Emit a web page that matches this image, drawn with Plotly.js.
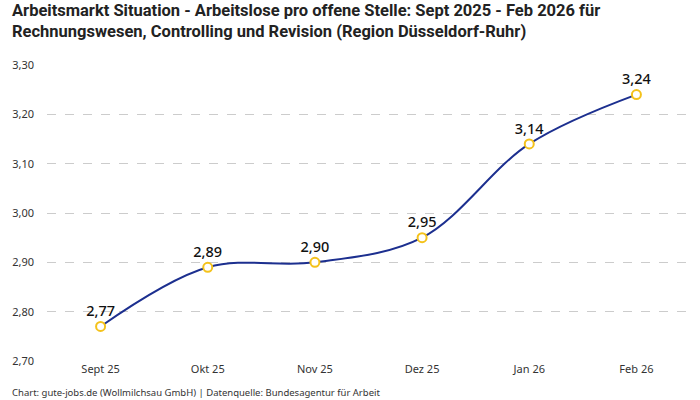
<!DOCTYPE html>
<html>
<head>
<meta charset="utf-8">
<script src="https://cdn.plot.ly/plotly-3.0.1.min.js"></script>
<style>
  body { margin: 0; background: #fff; }
  #chart { width: 700px; height: 400px; }
</style>
</head>
<body>
<div id="chart"></div>
<script>
var months = ["Sept 25", "Okt 25", "Nov 25", "Dez 25", "Jan 26", "Feb 26"];
var ratio = [2.77, 2.89, 2.90, 2.95, 3.14, 3.24];
var yTicks = [2.70, 2.80, 2.90, 3.00, 3.10, 3.20, 3.30];

var trace = {
  x: months,
  y: ratio,
  type: 'scatter',
  mode: 'lines+markers+text',
  line: { color: '#1c2f8f', width: 2, shape: 'spline', smoothing: 1 },
  marker: { size: 9, color: '#ffffff', line: { color: '#f4c21b', width: 2 } },
  texttemplate: '%{y:.2f}',
  textposition: 'top center',
  textfont: { family: 'Noto Sans, sans-serif', size: 14.5, color: '#111111', weight: 500 },
  cliponaxis: false,
  hoverinfo: 'skip'
};

var layout = {
  width: 700,
  height: 400,
  separators: ',.',
  paper_bgcolor: '#ffffff',
  plot_bgcolor: '#ffffff',
  margin: { l: 47, r: 10, t: 65, b: 39 },
  showlegend: false,
  xaxis: {
    type: 'category',
    range: [-0.5, 5.5],
    showgrid: false,
    zeroline: false,
    showline: false,
    ticks: '',
    tickfont: { family: 'Noto Sans, sans-serif', size: 11, color: '#333333' }
  },
  yaxis: {
    range: [2.70, 3.30],
    tickvals: yTicks,
    tickformat: '.2f',
    showgrid: true,
    gridcolor: '#cccccc',
    griddash: 'dash',
    gridwidth: 1,
    zeroline: false,
    showline: false,
    ticks: '',
    ticklabelstandoff: 12,
    tickfont: { family: 'Noto Sans, sans-serif', size: 11, color: '#333333' }
  },
  annotations: [{
    text: '<b>Arbeitsmarkt Situation - Arbeitslose pro offene Stelle: Sept 2025 - Feb 2026 für<br>Rechnungswesen, Controlling und Revision (Region Düsseldorf-Ruhr)</b>',
    xref: 'paper', yref: 'paper',
    x: -0.058, xanchor: 'left',
    y: 1.222, yanchor: 'top',
    align: 'left',
    showarrow: false,
    font: { family: 'Roboto, sans-serif', size: 16.5, color: '#222222' }
  }, {
    text: 'Chart: gute-jobs.de (Wollmilchsau GmbH) | Datenquelle: Bundesagentur für Arbeit',
    xref: 'paper', yref: 'paper',
    x: -0.058, xanchor: 'left',
    y: -0.108, yanchor: 'middle',
    showarrow: false,
    font: { family: 'Noto Sans, sans-serif', size: 9.5, color: '#333333' }
  }]
};

Plotly.newPlot('chart', [trace], layout, { displayModeBar: false, staticPlot: true });
</script>
</body>
</html>
